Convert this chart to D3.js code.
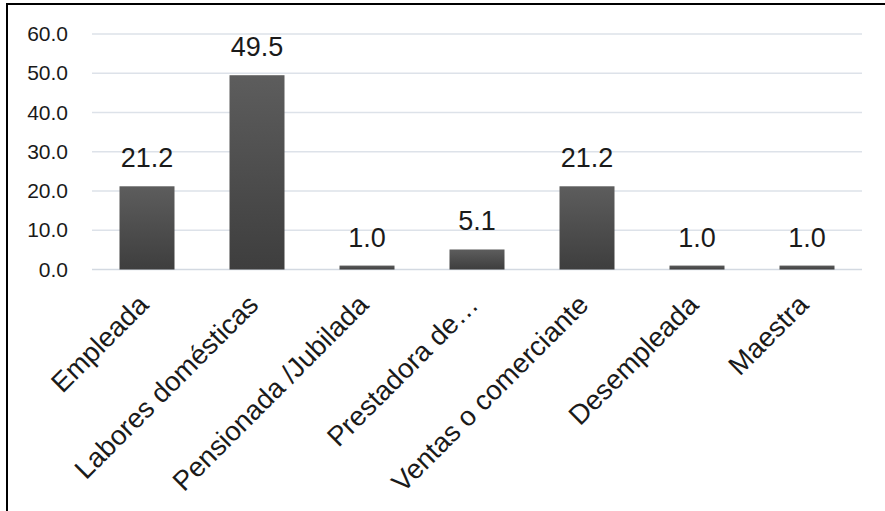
<!DOCTYPE html>
<html>
<head>
<meta charset="utf-8">
<script src="https://cdn.jsdelivr.net/npm/d3@7"></script>
<style>
  html, body { margin: 0; padding: 0; background: #fff; }
  svg { display: block; }
  text { font-family: "Liberation Sans", Arial, sans-serif; fill: #1a1a1a; }
</style>
</head>
<body>
<svg id="chart" width="885" height="511"></svg>
<script>
// Occupation categories and their percentages
const categories = ["Empleada", "Labores domésticas", "Pensionada /Jubilada", "Prestadora de…", "Ventas o comerciante", "Desempleada", "Maestra"];
const values = [21.2, 49.5, 1.0, 5.1, 21.2, 1.0, 1.0];
const yTicks = [0, 10, 20, 30, 40, 50, 60];

const svg = d3.select("#chart");

// frame around the figure
svg.append("path")
  .attr("d", "M7,511 V4 H885")
  .attr("fill", "none")
  .attr("stroke", "#000")
  .attr("stroke-width", 2);

const x = d3.scaleBand()
  .domain(categories)
  .range([92, 862])
  .paddingInner(0.5)
  .paddingOuter(0.25);

const y = d3.scaleLinear()
  .domain([0, 60])
  .range([269.5, 34]);

// bar fill gradient
const defs = svg.append("defs");
const grad = defs.append("linearGradient")
  .attr("id", "barGrad")
  .attr("x1", 0).attr("y1", 0).attr("x2", 0).attr("y2", 1);
grad.append("stop").attr("offset", "0%").attr("stop-color", "#5d5d5d");
grad.append("stop").attr("offset", "100%").attr("stop-color", "#3e3e3e");

// gridlines
svg.append("g")
  .selectAll("line")
  .data(yTicks)
  .join("line")
  .attr("x1", 92)
  .attr("x2", 862)
  .attr("y1", d => y(d))
  .attr("y2", d => y(d))
  .attr("stroke", d => d === 0 ? "#d3d9e1" : "#dde2e9")
  .attr("stroke-width", 1.3);

// y axis labels
const yAxis = d3.axisLeft(y)
  .tickValues(yTicks)
  .tickFormat(d3.format(".1f"))
  .tickSize(0)
  .tickPadding(0);
const gy = svg.append("g")
  .attr("transform", "translate(68,0)")
  .call(yAxis);
gy.select(".domain").remove();
gy.selectAll("text")
  .attr("font-size", 21)
  .attr("font-family", "\"Liberation Sans\", Arial, sans-serif")
  .attr("fill", "#1a1a1a");

// bars
svg.append("g")
  .selectAll("rect")
  .data(values)
  .join("rect")
  .attr("x", (d, i) => x(categories[i]))
  .attr("y", d => y(d))
  .attr("width", x.bandwidth())
  .attr("height", d => y(0) - y(d))
  .attr("fill", "url(#barGrad)");

// value labels
svg.append("g")
  .selectAll("text")
  .data(values)
  .join("text")
  .attr("x", (d, i) => x(categories[i]) + x.bandwidth() / 2)
  .attr("y", d => y(d) - 19)
  .attr("text-anchor", "middle")
  .attr("font-size", 27)
  .text(d => d3.format(".1f")(d));

// rotated category labels
const xAxis = d3.axisBottom(x).tickSize(0).tickPadding(0);
const gx = svg.append("g")
  .attr("transform", `translate(0,${y(0)})`)
  .call(xAxis);
gx.select(".domain").remove();
gx.selectAll("text")
  .attr("font-size", 27.5)
  .attr("font-family", "\"Liberation Sans\", Arial, sans-serif")
  .attr("fill", "#1a1a1a")
  .attr("text-anchor", "end")
  .attr("dy", null)
  .attr("y", 0)
  .attr("transform", "translate(3,37) rotate(-45)");
</script>
</body>
</html>
